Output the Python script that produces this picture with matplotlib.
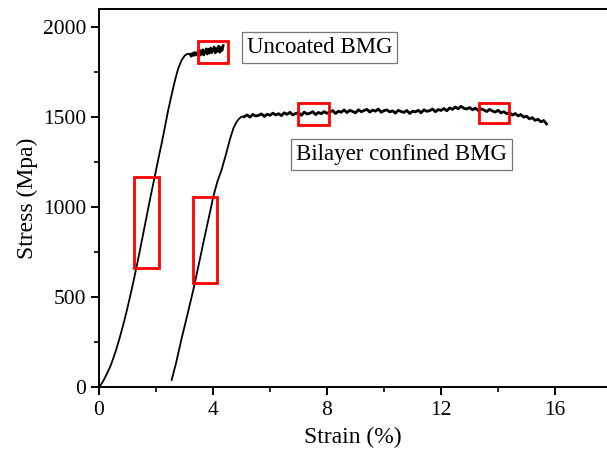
import matplotlib
matplotlib.use("Agg")
import matplotlib.pyplot as plt
from matplotlib.patches import Rectangle
from matplotlib.ticker import MultipleLocator

plt.rcParams['font.family'] = ['Liberation Serif', 'DejaVu Serif']

# Uncoated BMG: rising part then noisy plateau
uncoated_rise_strain = [0, 0.1, 0.2, 0.3, 0.4, 0.5, 0.6, 0.7, 0.8, 0.9, 1.0, 1.1, 1.2,
                        1.32, 1.45, 1.61, 1.8, 1.96, 2.1, 2.2, 2.32, 2.43, 2.55, 2.67,
                        2.78, 2.9, 3.0, 3.08, 3.15, 3.20]
uncoated_rise_stress = [0, 20, 48, 80, 115, 158, 205, 258, 315, 375, 440, 508, 580,
                        668, 770, 898, 1050, 1172, 1280, 1354, 1450, 1539, 1625, 1706,
                        1770, 1817, 1840, 1850, 1852, 1848]
uncoated_plateau_strain = [3.20, 3.24, 3.28, 3.32, 3.36, 3.40, 3.44, 3.48, 3.52, 3.56,
                           3.60, 3.64, 3.68, 3.72, 3.76, 3.80, 3.84, 3.88, 3.92, 3.96,
                           4.00, 4.04, 4.08, 4.12, 4.16, 4.20, 4.24, 4.28, 4.32, 4.36]
uncoated_plateau_stress = [1848, 1838, 1855, 1842, 1860, 1845, 1852, 1866, 1840, 1870,
                           1848, 1875, 1845, 1862, 1880, 1850, 1878, 1855, 1885, 1858,
                           1872, 1890, 1856, 1882, 1865, 1895, 1860, 1888, 1870, 1898]

# Bilayer confined BMG: rising part then long noisy plateau
bilayer_rise_strain = [2.55, 2.7, 2.9, 3.1, 3.31, 3.5, 3.7, 3.9, 4.01, 4.15, 4.3,
                       4.45, 4.6, 4.72, 4.83, 4.92, 5.0, 5.1]
bilayer_rise_stress = [39, 130, 270, 400, 540, 680, 830, 975, 1057, 1140, 1206,
                       1290, 1380, 1440, 1474, 1492, 1502, 1503]
bilayer_plateau_stress = [
    1503, 1512, 1500, 1515, 1506, 1510, 1518, 1504, 1516, 1510,
    1522, 1512, 1519, 1508, 1524, 1515, 1527, 1512, 1520, 1525,
    1510, 1528, 1517, 1522, 1530, 1514, 1526, 1519, 1531, 1521,
    1529, 1536, 1520, 1533, 1527, 1540, 1525, 1538, 1531, 1524,
    1541, 1530, 1537, 1543, 1528, 1539, 1533, 1545, 1527, 1536,
    1540, 1529, 1535, 1522, 1538, 1531, 1526, 1537, 1520, 1533,
    1529, 1538, 1524, 1541, 1532, 1536, 1545, 1530, 1542, 1537,
    1548, 1535, 1551, 1543, 1556, 1546, 1560, 1549, 1545, 1553,
    1541, 1550, 1537, 1546, 1540, 1531, 1543, 1534, 1528, 1538,
    1524, 1530, 1519, 1526, 1511, 1520, 1507, 1514, 1500, 1505,
    1490, 1497, 1482, 1488, 1474, 1481, 1462]
bilayer_plateau_strain = [round(5.1 + 0.1 * i, 2) for i in range(len(bilayer_plateau_stress))]

# highlighted regions (strain0, strain1, stress0, stress1)
highlights = [
    (3.48, 4.54, 1802, 1922),
    (1.24, 2.11, 660, 1168),
    (3.31, 4.15, 580, 1057),
    (6.99, 8.08, 1456, 1576),
    (13.33, 14.40, 1465, 1581),
]

fig = plt.figure(figsize=(6.07, 4.58), dpi=100)
ax = fig.add_axes([0.163, 0.155, 0.837, 0.825])

ax.plot(uncoated_rise_strain, uncoated_rise_stress, color='black', lw=1.3)
ax.plot(uncoated_plateau_strain, uncoated_plateau_stress, color='black', lw=1.8)
ax.plot(bilayer_rise_strain, bilayer_rise_stress, color='black', lw=1.3)
ax.plot(bilayer_plateau_strain, bilayer_plateau_stress, color='black', lw=2.0)

for x0, x1, y0, y1 in highlights:
    ax.add_patch(Rectangle((x0, y0), x1 - x0, y1 - y0, fill=False,
                           ec='red', lw=2.0, zorder=3))

box = dict(boxstyle='square,pad=0.22', fc='white', ec='#777777', lw=0.9)
ax.text(7.74, 1889, 'Uncoated BMG', fontsize=16.5, ha='center', va='center', bbox=box)
ax.text(10.6, 1292, 'Bilayer confined BMG', fontsize=16.5, ha='center', va='center', bbox=box)

ax.set_xlim(0, 17.82)
ax.set_ylim(0, 2100)
ax.xaxis.set_major_locator(MultipleLocator(4))
ax.xaxis.set_minor_locator(MultipleLocator(2))
ax.yaxis.set_major_locator(MultipleLocator(500))
ax.yaxis.set_minor_locator(MultipleLocator(250))

ax.spines['right'].set_visible(False)
for s in ('left', 'bottom', 'top'):
    ax.spines[s].set_linewidth(1.4)
ax.tick_params(which='major', direction='out', length=6, width=1.4,
               labelsize=15.5, pad=3)
ax.tick_params(axis='x', which='major', pad=4)
ax.tick_params(which='minor', direction='out', length=3.5, width=1.2)
ax.tick_params(top=False, right=False, which='both')

ax.set_xlabel('Strain (%)', fontsize=17, labelpad=5)
ax.set_ylabel('Stress (Mpa)', fontsize=17, labelpad=4)

fig.savefig('out.png', dpi=100)
